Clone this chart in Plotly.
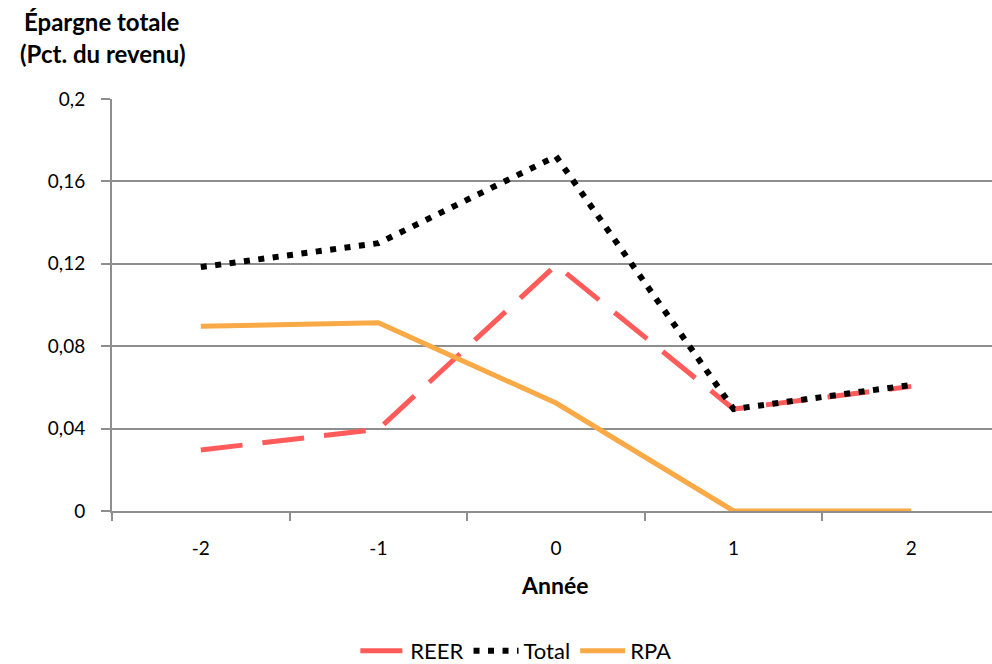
import plotly.graph_objects as go

annees = ["-2", "-1", "0", "1", "2"]
reer = [0.0296, 0.0397, 0.1194, 0.0495, 0.0605]
total = [0.1184, 0.1300, 0.1722, 0.0495, 0.0612]
rpa = [0.0897, 0.0914, 0.0524, 0.0, 0.0]
ytick_vals = [0, 0.04, 0.08, 0.12, 0.16, 0.2]
ytick_text = ["0", "0,04", "0,08", "0,12", "0,16", "0,2"]

FONT = "Lato, 'Open Sans', sans-serif"
GRID = "#8e8e8e"

fig = go.Figure()
fig.add_trace(go.Scatter(x=annees, y=reer, name="REER", mode="lines",
                         line=dict(color="#FF5B5B", width=5, dash="42px,20px")))
fig.add_trace(go.Scatter(x=annees, y=total, name="Total", mode="lines",
                         line=dict(color="#000000", width=6, dash="6px,8.5px")))
fig.add_trace(go.Scatter(x=annees, y=rpa, name="RPA", mode="lines",
                         line=dict(color="#F9A945", width=5)))

fig.update_layout(
    width=992, height=664, autosize=False,
    margin=dict(l=112, r=0, t=99, b=153),
    paper_bgcolor="white", plot_bgcolor="white",
    font=dict(family=FONT, size=19, color="#000000"),
    showlegend=True,
    legend=dict(orientation="h", xref="container", yref="container",
                x=0.52, y=1 - 651 / 664, xanchor="center", yanchor="middle",
                font=dict(size=22), itemwidth=45, tracegroupgap=0),
    xaxis=dict(type="category", range=[-0.5, 4.455], tickson="boundaries",
               ticks="outside", ticklen=8, tickwidth=2, tickcolor=GRID,
               showline=True, linecolor=GRID, linewidth=2, showgrid=False,
               ticklabelstandoff=19, zeroline=False),
    yaxis=dict(range=[0, 0.2], tickvals=ytick_vals, ticktext=ytick_text,
               ticks="outside", ticklen=9, tickwidth=2, tickcolor=GRID,
               showline=True, linecolor=GRID, linewidth=2,
               showgrid=True, gridcolor=GRID, gridwidth=2, zeroline=False,
               ticklabelstandoff=12),
    annotations=[
        dict(text="<b>Épargne totale</b>", xref="paper", yref="paper",
             x=-0.0114, y=1 + (99 - 21) / 412, xanchor="center", yanchor="middle",
             showarrow=False, font=dict(size=24)),
        dict(text="<b>(Pct. du revenu)</b>", xref="paper", yref="paper",
             x=-0.0102, y=1 + (99 - 54) / 412, xanchor="center", yanchor="middle",
             showarrow=False, font=dict(size=24)),
        dict(text="<b>Année</b>", xref="paper", yref="paper", x=0.503, y=-0.18,
             xanchor="center", yanchor="middle", showarrow=False, font=dict(size=23)),
    ],
)

fig.write_html("out.html")
